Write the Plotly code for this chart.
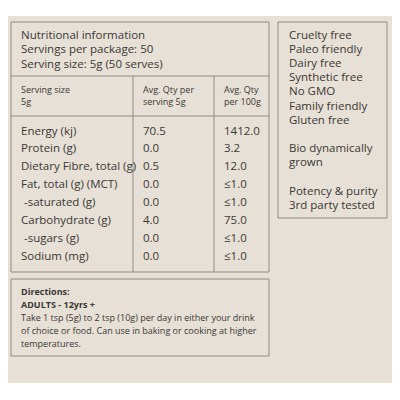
import plotly.graph_objects as go

nutrients = ["Energy (kj)", "Protein (g)", "Dietary Fibre, total (g)", "Fat, total (g) (MCT)",
             " -saturated (g)", "Carbohydrate (g)", " -sugars (g)", "Sodium (mg)"]
per_serving = ["70.5", "0.0", "0.5", "0.0", "0.0", "4.0", "0.0", "0.0"]
per_100g = ["1412.0", "3.2", "12.0", "≤1.0", "≤1.0", "75.0", "≤1.0", "≤1.0"]
header_lines = ["Nutritional information", "Servings per package: 50", "Serving size: 5g (50 serves)"]
col_heads = ["Serving size<br>5g", "Avg. Qty per<br>serving 5g", "Avg. Qty<br>per 100g"]
claims = ["Cruelty free", "Paleo friendly", "Dairy free", "Synthetic free", "No GMO",
          "Family friendly", "Gluten free", "", "Bio dynamically", "grown", "",
          "Potency & purity", "3rd party tested"]
directions = ["<b>Directions:</b>", "<b>ADULTS - 12yrs +</b>",
              "Take 1 tsp (5g) to 2 tsp (10g) per day in either your drink",
              "of choice or food. Can use in baking or cooking at higher",
              "temperatures."]

fig = go.Figure()
txt = "#3a3835"
line = dict(color="#8f8a84", width=1)
ann = []

def label(x, y, t, size=11.5):
    ann.append(dict(x=x, y=y, text=t, showarrow=False, xanchor="left", yanchor="middle",
                    align="left", font=dict(size=size, color=txt)))

for i, t in enumerate(header_lines):
    label(19, 34 + i * 14.5, t)
for x, t in zip([19, 141, 222], col_heads):
    label(x, 95, t, size=9)
for i in range(len(nutrients)):
    y = 130 + i * 17.9
    label(19, y, nutrients[i])
    label(141, y, per_serving[i])
    label(222, y, per_100g[i])
for i, t in enumerate(claims):
    if t:
        label(287, 34 + i * 14.2, t)
for i, t in enumerate(directions):
    label(19, 291 + i * 13, t, size=9)

shapes = [
    dict(type="rect", x0=7, x1=392, y0=16, y1=383, fillcolor="#e7e0d6", line=dict(width=0), layer="below"),
    dict(type="rect", x0=11, x1=269, y0=22, y1=272, line=line),
    dict(type="line", x0=11, x1=269, y0=76, y1=76, line=line),
    dict(type="line", x0=11, x1=269, y0=116, y1=116, line=line),
    dict(type="line", x0=133, x1=133, y0=76, y1=272, line=line),
    dict(type="line", x0=214, x1=214, y0=76, y1=272, line=line),
    dict(type="rect", x0=11, x1=269, y0=279, y1=356, line=line),
    dict(type="rect", x0=278, x1=387, y0=22, y1=218, line=line),
]

# page body has an 8px margin, so offset the axis ranges to land on the reference pixels
fig.update_layout(
    width=400, height=400, margin=dict(l=0, r=0, t=0, b=0),
    paper_bgcolor="white", plot_bgcolor="white",
    font=dict(family="Open Sans"),
    xaxis=dict(range=[8, 408], visible=False, fixedrange=True),
    yaxis=dict(range=[408, 8], visible=False, fixedrange=True),
    shapes=shapes, annotations=ann, showlegend=False,
)
fig.write_html("out.html")
